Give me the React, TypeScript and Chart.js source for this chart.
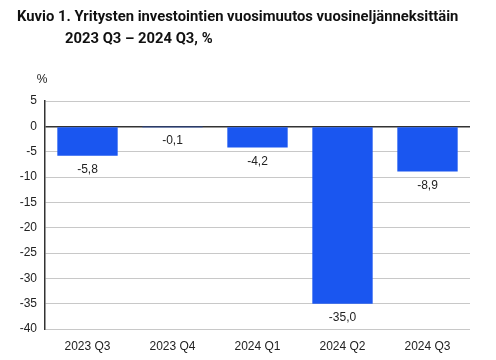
import React, { useEffect, useRef } from "react";
import { Chart, registerables } from "chart.js";

Chart.register(...registerables);

const categories = ["2023 Q3", "2023 Q4", "2024 Q1", "2024 Q2", "2024 Q3"];
const values = [-5.8, -0.1, -4.2, -35.0, -8.9];
const titleLine1 = "Kuvio 1. Yritysten investointien vuosimuutos vuosineljänneksittäin";
const titleLine2 = "2023 Q3 – 2024 Q3, %";
const unitLabel = "%";

const fmt = (v: number) => v.toFixed(1).replace(".", ",");

const labelPlugin = {
  id: "barLabels",
  afterDatasetsDraw(chart: any) {
    const { ctx } = chart;
    const meta = chart.getDatasetMeta(0);
    ctx.save();
    ctx.font = "12px 'Liberation Sans', Arial, sans-serif";
    ctx.fillStyle = "#222";
    ctx.textAlign = "center";
    ctx.textBaseline = "middle";
    meta.data.forEach((bar: any, i: number) => {
      const v = values[i];
      const y = v < 0 ? bar.y + 14 : bar.y - 14;
      ctx.fillText(fmt(v), bar.x, y);
    });
    // unit label
    ctx.textAlign = "center";
    ctx.fillText(unitLabel, chart.chartArea.left - 3, chart.chartArea.top - 21);
    ctx.restore();
  },
};

export default function App() {
  const ref = useRef<HTMLCanvasElement>(null);
  useEffect(() => {
    if (!ref.current) return;
    const chart = new Chart(ref.current, {
      type: "bar",
      data: {
        labels: categories,
        datasets: [
          {
            data: values,
            backgroundColor: "#1a56f0",
            barPercentage: 0.71,
            categoryPercentage: 1,
          },
        ],
      },
      options: {
        responsive: false,
        animation: false,
        devicePixelRatio: 1,
        layout: { padding: { top: 101, right: 26, bottom: 0, left: 0 } },
        plugins: {
          legend: { display: false },
          tooltip: { enabled: false },
          title: { display: false },
        },
        scales: {
          x: {
            grid: { display: false, drawTicks: false },
            border: { display: false },
            ticks: {
              color: "#222",
              padding: 10,
              font: { family: "'Liberation Sans', Arial, sans-serif", size: 12 },
            },
            afterFit: (s: any) => {
              s.height = 31;
            },
          },
          y: {
            min: -40,
            max: 5,
            ticks: {
              stepSize: 5,
              color: "#222",
              padding: 8,
              font: { family: "'Liberation Sans', Arial, sans-serif", size: 12 },
            },
            grid: {
              drawTicks: false,
              color: (c: any) => (c.tick && c.tick.value === 0 ? "#333" : "#c8c8c8"),
              lineWidth: (c: any) => (c.tick && c.tick.value === 0 ? 1.6 : 1),
            },
            border: { color: "#333", width: 1.5 },
            afterFit: (s: any) => {
              s.width = 45;
            },
          },
        },
      },
      plugins: [labelPlugin],
    });
    return () => chart.destroy();
  }, []);

  return (
    <div style={{ position: "absolute", left: 0, top: 0, width: 496, height: 360, background: "#fff" }}>
      <canvas ref={ref} width={496} height={360} style={{ position: "absolute", left: 0, top: 0 }} />
      <div
        style={{
          position: "absolute",
          left: 17,
          top: 5,
          fontFamily: "Roboto, 'Noto Sans', sans-serif",
          fontWeight: 700,
          fontSize: 14.8,
          lineHeight: "22px",
          color: "#111",
          whiteSpace: "nowrap",
        }}
      >
        <div>{titleLine1}</div>
        <div style={{ paddingLeft: 48 }}>{titleLine2}</div>
      </div>
    </div>
  );
}
